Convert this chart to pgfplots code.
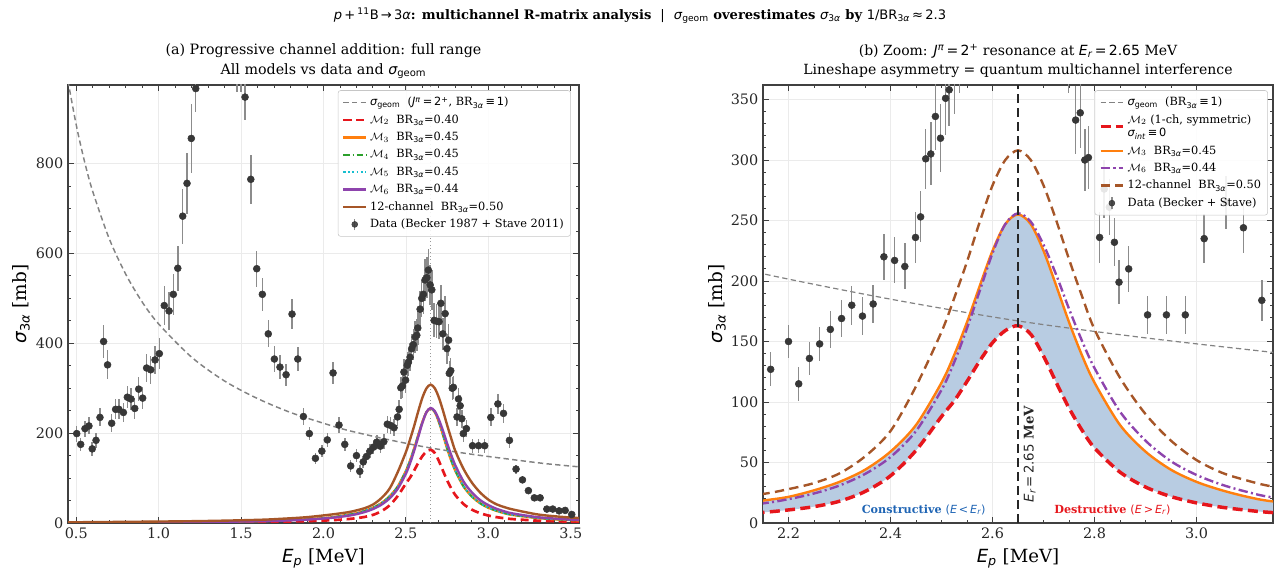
\documentclass[border=0pt]{standalone}
\usepackage{fontspec}
\setmainfont{DejaVu Serif}
\newfontfamily\djs{DejaVu Sans}
\newcommand{\mi}[1]{{\djs\mdseries\itshape #1}}
\newcommand{\mr}[1]{{\djs\mdseries\upshape #1}}
\usepackage{pgfplots}
\pgfplotsset{compat=1.18}
\usepackage{pgfplotstable}

\definecolor{cgeom}{RGB}{130,130,130}
\definecolor{cred}{RGB}{230,22,28}
\definecolor{corange}{RGB}{255,127,14}
\definecolor{cgreen}{RGB}{44,160,44}
\definecolor{ccyan}{RGB}{23,190,207}
\definecolor{cpurple}{RGB}{142,68,173}
\definecolor{cbrown}{RGB}{166,86,40}
\definecolor{cfill}{RGB}{184,204,226}
\definecolor{cdata}{RGB}{55,55,55}
\definecolor{cerr}{RGB}{140,140,140}
\definecolor{cblue}{RGB}{30,100,180}

\pgfplotstableread{
E s e
0.503 199 18
0.527 175 15
0.553 210 18
0.577 216 19
0.597 165 15
0.620 184 16
0.644 235 20
0.666 404 36
0.690 352 32
0.715 222 20
0.739 253 22
0.759 253 22
0.786 246 22
0.810 280 25
0.832 276 25
0.855 255 23
0.879 298 26
0.903 278 25
0.927 345 31
0.952 341 31
0.978 363 32
1.004 377 34
1.034 484 43
1.063 472 42
1.089 509 45
1.116 567 50
1.146 683 61
1.172 756 68
1.198 856 77
1.225 967 52
1.474 1060 100
1.500 1050 90
1.524 948 52
1.559 765 55
1.595 566 40
1.629 509 36
1.665 421 30
1.702 365 28
1.736 347 26
1.773 330 25
1.809 465 33
1.844 365 27
1.878 237 18
1.914 199 15
1.951 144 12
1.990 160 13
2.023 185 15
2.058 334 25
2.094 218 17
2.129 175 14
2.165 127 14
2.200 150 14
2.220 115 14
2.241 136 14
2.261 148 14
2.282 160 15
2.304 169 15
2.324 180 16
2.345 171 16
2.366 181 16
2.387 220 19
2.408 217 19
2.428 212 19
2.449 236 21
2.459 253 21
2.469 301 25
2.479 305 26
2.488 336 28
2.498 318 28
2.508 351 30
2.515 358 30
2.525 369 31
2.535 388 33
2.545 397 34
2.556 414 35
2.566 418 36
2.572 434 37
2.586 476 40
2.596 500 42
2.606 509 43
2.616 541 46
2.627 546 46
2.636 563 48
2.647 530 45
2.657 519 44
2.671 451 38
2.687 449 38
2.701 448 38
2.712 489 41
2.724 421 36
2.738 466 40
2.749 388 33
2.759 407 35
2.763 333 28
2.772 339 29
2.781 300 26
2.788 302 26
2.810 236 21
2.819 276 24
2.829 261 23
2.839 232 20
2.848 199 18
2.867 210 19
2.904 172 16
2.941 172 16
2.978 172 16
3.015 235 20
3.058 265 22
3.092 244 21
3.128 184 17
3.168 120 10
3.207 96 8
3.243 72 6
3.279 56 5
3.314 56 5
3.355 31 4
3.391 31 4
3.429 27 3
3.466 28 3
3.506 19 3
}\datatab

\pgfplotstableread{
E g
0.45 984
0.50 886
0.55 805
0.60 738
0.70 633
0.80 554
0.90 492
1.00 443
1.20 369
1.40 316
1.60 277
1.80 246
2.00 222
2.15 206
2.40 185
2.65 167
2.90 153
3.15 141
3.35 132
3.55 125
}\geomtab

\pgfplotstableread{
E m2 m3 m6 m12
0.45 0.6 1.0 0.9 1.5
1.20 1.3 2.3 2.0 4
1.60 2.3 4.3 3.9 7
1.75 3.0 5.8 5.2 9.5
1.90 4.2 8.2 7.5 13
2.05 6.2 12.6 11.5 19
2.15 8.8 18.5 16.2 24
2.20 10.8 21.6 19.7 28
2.25 13.5 27 24.4 33
2.30 18 34 31 41
2.35 26 44 40.5 55
2.40 39 59 54.5 76
2.45 60 81 76 113
2.50 88 116 110 158
2.525 101 139 133 186
2.55 117 166 161 216
2.575 134 196 192 249
2.60 149 225 223 279
2.625 159 247 247 300
2.65 163 255 256 308
2.675 156 247 249 300
2.70 138 225 230 279
2.725 116 196 205 250
2.75 95 166 177 218
2.775 77 139 151 188
2.80 62 116 128 160
2.85 42 81 92 120
2.90 29.7 59 68 90
2.95 21.8 44 51 68
3.00 16.6 34 39.7 52
3.05 13 27 31.6 41.5
3.10 10.5 21.6 25.6 35
3.15 8.6 17.8 21.1 30
3.30 5.2 11 12.9 19
3.45 3.5 7.3 8.7 13.5
3.55 2.75 5.8 6.9 11
}\modtab

% band between M2 and M3 (M3 forward, M2 backward)
\pgfplotstableread{
E y
2.05 12.6
2.15 18.5
2.20 21.6
2.25 27
2.30 34
2.35 44
2.40 59
2.45 81
2.50 116
2.525 139
2.55 166
2.575 196
2.60 225
2.625 247
2.65 255
2.675 247
2.70 225
2.725 196
2.75 166
2.775 139
2.80 116
2.85 81
2.90 59
2.95 44
3.00 34
3.05 27
3.10 21.6
3.15 17.8
3.30 11
3.30 5.2
3.15 8.6
3.10 10.5
3.05 13
3.00 16.6
2.95 21.8
2.90 29.7
2.85 42
2.80 62
2.775 77
2.75 95
2.725 116
2.70 138
2.675 156
2.65 163
2.625 159
2.60 149
2.575 134
2.55 117
2.525 101
2.50 88
2.45 60
2.40 39
2.35 26
2.30 18
2.25 13.5
2.20 10.8
2.15 8.8
2.05 6.2
}\bandtab

\pgfplotsset{
  common/.style={
    scale only axis, anchor=south west,
    tick align=inside,
    grid=major, major grid style={gray!16, line width=0.6pt},
    axis line style={black!75, line width=0.9pt},
    tick style={black!75, line width=0.7pt},
    major tick length=4.5pt, minor tick length=2.5pt,
    ticklabel style={font=\fontsize{10.8}{12}\selectfont, black!85},
    /pgf/number format/assume math mode=true,
    legend cell align=left,
    legend style={font=\fontsize{8.5}{10}\selectfont, draw=gray!45, fill=white, fill opacity=0.88, text opacity=1, rounded corners=2pt, inner sep=3pt, row sep=1.2pt, cells={align=left}},
  },
  datalegend/.style={legend image code/.code={\draw[cerr,line width=1.1pt] (0.3cm,-0.15cm)--(0.3cm,0.15cm); \fill[cdata] (0.3cm,0cm) circle (2.2pt);}},
  dataplot/.style={only marks, mark=*, mark size=2.6pt, color=cdata, mark options={fill=cdata, draw=cdata},
    error bars/.cd, y dir=both, y explicit, error mark=none, error bar style={cerr, line width=1.1pt}},
}

\begin{document}
\begin{tikzpicture}
\path[use as bounding box] (0,0) rectangle (960pt,429.75pt);

\node[font=\fontsize{9.8}{12}\selectfont\bfseries] at (480pt,418pt)
 {\mi{p}\mr{\,+\,}\textsuperscript{\mr{11}}\mr{B\,→\,3}\mi{α}: multichannel R-matrix analysis\ \ \mr{|}\ \ \mi{σ}\textsubscript{\mr{geom}} overestimates \mi{σ}\textsubscript{\mr{3}\mi{α}} by \mr{1/BR}\textsubscript{\mr{3}\mi{α}}\mr{\,≈\,2.3}};

\node[font=\fontsize{10.7}{12}\selectfont] at (242.6pt,391.5pt) {(a) Progressive channel addition: full range};
\node[font=\fontsize{10.7}{12}\selectfont] at (242.6pt,376.5pt) {All models vs data and \mi{σ}\textsubscript{\mr{geom}}};
\node[font=\fontsize{10.5}{12}\selectfont] at (763.5pt,391.5pt) {(b) Zoom: \mi{J}\textsuperscript{\mi{π}}\mr{\,=\,2}\textsuperscript{\mr{+}} resonance at \mi{E}\textsubscript{\mi{r}}\mr{\,=\,2.65} MeV};
\node[font=\fontsize{10.5}{12}\selectfont] at (763.5pt,376.5pt) {Lineshape asymmetry \mr{=} quantum multichannel interference};

\node[font=\fontsize{13.6}{15}\selectfont] at (242.6pt,11pt) {\mi{E}\textsubscript{\mi{p}} [MeV]};
\node[font=\fontsize{13.6}{15}\selectfont] at (763.5pt,11pt) {\mi{E}\textsubscript{\mi{p}} [MeV]};
\node[font=\fontsize{13.8}{15}\selectfont, rotate=90] at (16pt,201.75pt) {\mi{σ}\textsubscript{\mr{3}\mi{α}} [mb]};
\node[font=\fontsize{13.8}{15}\selectfont, rotate=90] at (538pt,201.75pt) {\mi{σ}\textsubscript{\mr{3}\mi{α}} [mb]};

% ---------------- left panel
\begin{axis}[common,
  at={(51pt,37.5pt)}, width=383.25pt, height=328.5pt,
  xmin=0.45, xmax=3.55, ymin=0, ymax=975,
  xtick={0.5,1,1.5,2,2.5,3,3.5}, ytick={0,200,400,600,800},
  minor x tick num=4, minor y tick num=3,
  xticklabel style={/pgf/number format/.cd, fixed, fixed zerofill, precision=1},
  legend style={at={(0.984,0.988)}, anchor=north east},
]
\addplot[forget plot, gray!80, dotted, line width=0.7pt] coordinates {(2.65,0) (2.65,975)};
\addplot[cgeom, line width=1.1pt, dash pattern=on 4pt off 2.5pt, smooth] table[x=E,y=g]{\geomtab};
\addlegendentry{\mi{σ}\textsubscript{\mr{geom}}\ \ (\mi{J}\textsuperscript{\mi{π}}\mr{\,=\,2}\textsuperscript{\mr{+}}, BR\textsubscript{\mr{3}\mi{α}}\mr{\,≡\,1})}
\addplot[cred, line width=2pt, dash pattern=on 6pt off 3.5pt, smooth] table[x=E,y=m2]{\modtab};
\addlegendentry{$\mathcal{M}_2$\ \ BR\textsubscript{\mr{3}\mi{α}}=0.40}
\addplot[corange, line width=1.8pt, smooth] table[x=E,y=m3]{\modtab};
\addlegendentry{$\mathcal{M}_3$\ \ BR\textsubscript{\mr{3}\mi{α}}=0.45}
\addplot[cgreen, line width=1.3pt, dash pattern=on 5pt off 2pt on 1pt off 2pt, smooth] table[x=E,y=m3]{\modtab};
\addlegendentry{$\mathcal{M}_4$\ \ BR\textsubscript{\mr{3}\mi{α}}=0.45}
\addplot[ccyan, line width=1.3pt, dotted, smooth] table[x=E,y=m3]{\modtab};
\addlegendentry{$\mathcal{M}_5$\ \ BR\textsubscript{\mr{3}\mi{α}}=0.45}
\addplot[cpurple, line width=1.8pt, smooth] table[x=E,y=m6]{\modtab};
\addlegendentry{$\mathcal{M}_6$\ \ BR\textsubscript{\mr{3}\mi{α}}=0.44}
\addplot[cbrown, line width=1.8pt, smooth] table[x=E,y=m12]{\modtab};
\addlegendentry{12-channel\ \ BR\textsubscript{\mr{3}\mi{α}}=0.50}
\addplot[datalegend, dataplot] table[x=E,y=s,y error=e]{\datatab};
\addlegendentry{Data (Becker 1987 + Stave 2011)}
\end{axis}

% ---------------- right panel
\begin{axis}[common,
  at={(572.25pt,37.5pt)}, width=382.5pt, height=328.5pt,
  xmin=2.15, xmax=3.15, ymin=0, ymax=362,
  xtick={2.2,2.4,2.6,2.8,3.0}, ytick={0,50,100,150,200,250,300,350},
  minor x tick num=3, minor y tick num=4,
  xticklabel style={/pgf/number format/.cd, fixed, fixed zerofill, precision=1},
  legend style={at={(0.99,0.988)}, anchor=north east},
]
\addplot[forget plot, draw=none, fill=cfill, smooth] table[x=E,y=y]{\bandtab};
\addplot[cgeom, line width=0.9pt, dash pattern=on 4pt off 2.5pt, smooth] table[x=E,y=g]{\geomtab};
\addlegendentry{\mi{σ}\textsubscript{\mr{geom}}\ \ (BR\textsubscript{\mr{3}\mi{α}}\mr{\,≡\,1})}
\addplot[cred, line width=2.6pt, dash pattern=on 7.5pt off 4pt, smooth] table[x=E,y=m2]{\modtab};
\addlegendentry{$\mathcal{M}_2$ (1-ch, symmetric)\\\mi{σ}\textsubscript{\mi{int}}\mr{\,≡\,0}}
\addplot[corange, line width=1.8pt, smooth] table[x=E,y=m3]{\modtab};
\addlegendentry{$\mathcal{M}_3$\ \ BR\textsubscript{\mr{3}\mi{α}}=0.45}
\addplot[cpurple, line width=1.8pt, dash pattern=on 7pt off 2.5pt on 1.5pt off 2.5pt, smooth] table[x=E,y=m6]{\modtab};
\addlegendentry{$\mathcal{M}_6$\ \ BR\textsubscript{\mr{3}\mi{α}}=0.44}
\addplot[cbrown, line width=1.8pt, dash pattern=on 7pt off 4pt, smooth] table[x=E,y=m12]{\modtab};
\addlegendentry{12-channel\ \ BR\textsubscript{\mr{3}\mi{α}}=0.50}
\addplot[datalegend, dataplot] table[x=E,y=s,y error=e]{\datatab};
\addlegendentry{Data (Becker + Stave)}
\addplot[forget plot, black!85, line width=2pt, dash pattern=on 7pt off 3.5pt] coordinates {(2.65,0) (2.65,362)};
\node[rotate=90, font=\bfseries\fontsize{10}{12}\selectfont, black!85] at (axis cs:2.673,57) {\mi{E}\textsubscript{\mi{r}}\mr{\,=\,2.65} MeV};
\node[font=\bfseries\fontsize{8.4}{10}\selectfont, cblue] at (axis cs:2.465,11) {Constructive \mr{(}\mi{E}\mr{\,<\,}\mi{E}\textsubscript{\mi{r}}\mr{)}};
\node[font=\bfseries\fontsize{8.4}{10}\selectfont, cred] at (axis cs:2.835,11) {Destructive \mr{(}\mi{E}\mr{\,>\,}\mi{E}\textsubscript{\mi{r}}\mr{)}};
\end{axis}
\end{tikzpicture}
\end{document}
